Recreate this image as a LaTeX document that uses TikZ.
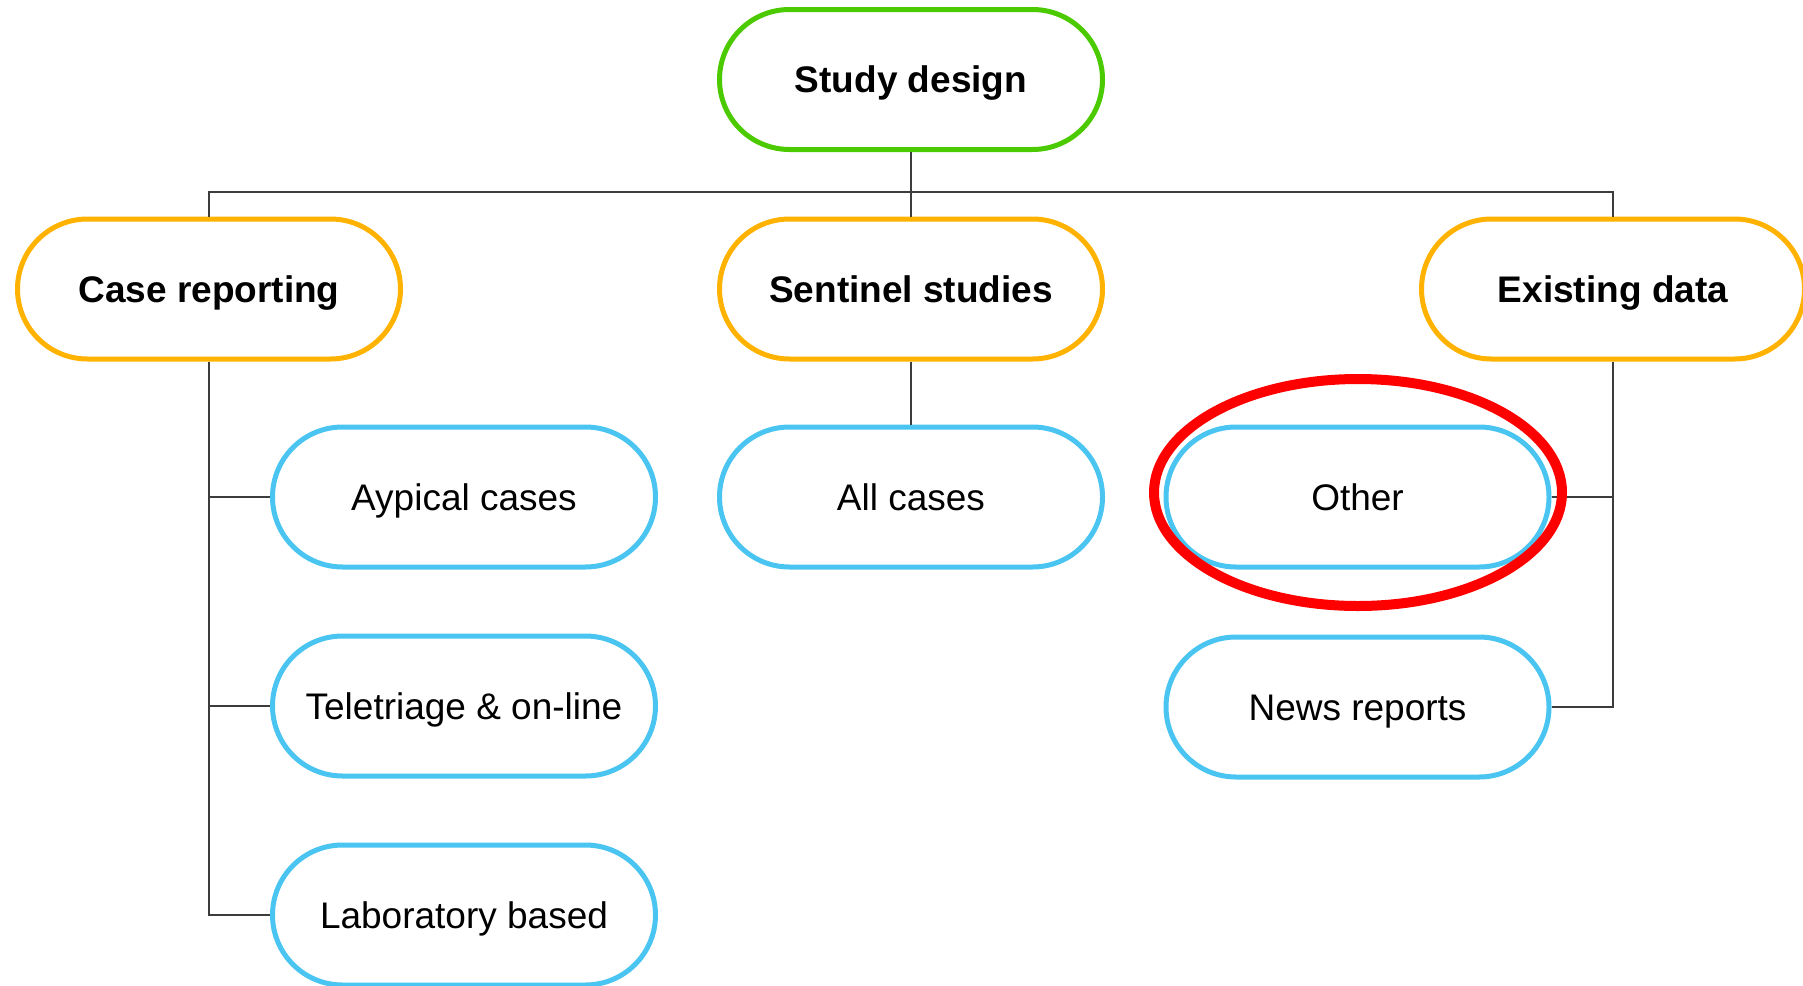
\documentclass[tikz,border=0pt]{standalone}
\usepackage{fontspec}
\setmainfont{Liberation Sans}
\definecolor{topgreen}{RGB}{76,202,0}
\definecolor{midorange}{RGB}{255,178,0}
\definecolor{leafblue}{RGB}{74,196,240}
\definecolor{linegrey}{RGB}{60,60,60}
\definecolor{hlred}{RGB}{255,0,0}
\tikzset{
  pill/.style={draw, line width=2.5pt, fill=white, rectangle, rounded corners=35pt,
    minimum width=191.5pt, minimum height=70pt, inner sep=0pt,
    text height=17pt, text depth=3.75pt,
    font=\fontsize{18.5pt}{22pt}\selectfont},
  rootbox/.style={pill, draw=topgreen, font=\fontsize{18.5pt}{22pt}\selectfont\bfseries},
  catbox/.style={pill, draw=midorange, font=\fontsize{18.5pt}{22pt}\selectfont\bfseries},
  leafbox/.style={pill, draw=leafblue},
  conn/.style={draw=linegrey, line width=1pt},
}
\begin{document}
\begin{tikzpicture}[x=0.5pt, y=-0.5pt]
\useasboundingbox (0,0) rectangle (1803,985);
\coordinate (bus) at (911,192);
\node[rootbox] (study) at (911,79.5) {Study design};
\node[catbox] (case) at (209,289) {Case reporting};
\node[catbox] (sent) at (911,289) {Sentinel studies};
\node[catbox] (exist) at (1613,289) {Existing data};
\node[leafbox] (aypical) at (464,497) {Aypical cases};
\node[leafbox] (tele) at (464,706) {Teletriage \& on-line};
\node[leafbox] (lab) at (464,915) {Laboratory based};
\node[leafbox] (allc) at (911,497) {All cases};
\node[leafbox] (other) at (1357.5,497) {Other};
\node[leafbox] (news) at (1357.5,707) {News reports};
\draw[conn] (study.south) -- (bus);
\draw[conn] (case.north) |- (bus) -| (exist.north);
\draw[conn] (bus) -- (sent.north);
\draw[conn] (case.south) |- (aypical.west);
\draw[conn] (case.south) |- (tele.west);
\draw[conn] (case.south) |- (lab.west);
\draw[conn] (sent.south) -- (allc.north);
\draw[conn] (exist.south) |- (other.east);
\draw[conn] (exist.south) |- (news.east);
\draw[hlred, line width=5pt] (1358,492.5) ellipse [x radius=102pt, y radius=56.75pt];
\end{tikzpicture}
\end{document}
